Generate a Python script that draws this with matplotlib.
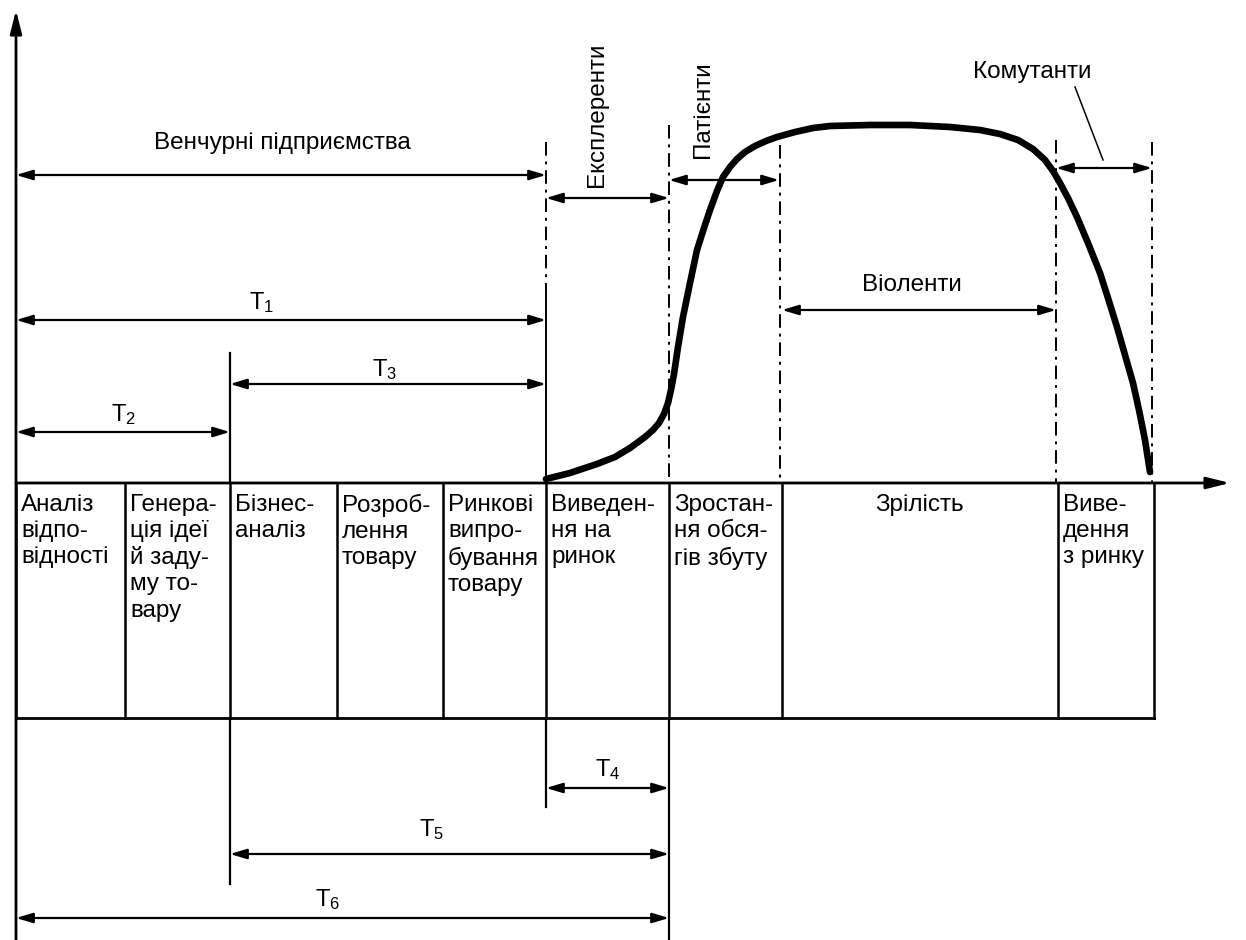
import numpy as np
import matplotlib
matplotlib.use('Agg')
import matplotlib.pyplot as plt

plt.rcParams['font.family'] = ['Liberation Sans', 'DejaVu Sans']
plt.rcParams['mathtext.default'] = 'regular'

# stage boundaries along the time axis and stage names
stage_edges = [16, 125, 230, 337, 443, 546, 669, 782, 1058, 1154]
stage_names = ['Аналіз\nвідпо-\nвідності',
               'Генера-\nція ідеї\nй заду-\nму то-\nвару',
               'Бізнес-\nаналіз',
               'Розроб-\nлення\nтовару',
               'Ринкові\nвипро-\nбування\nтовару',
               'Виведен-\nня на\nринок',
               'Зростан-\nня обся-\nгів збуту',
               'Зрілість',
               'Виве-\nдення\nз ринку']

# life-cycle curve (sales)
curve_x = [546, 570, 597, 615, 630, 645, 653, 659, 664, 668, 671, 674, 678, 683,
           690, 697, 704, 710, 717, 723, 730, 737, 745, 755, 766, 777, 795, 813,
           830, 870, 910, 950, 980, 1000, 1018, 1033, 1045, 1053, 1060, 1068, 1077,
           1088, 1100, 1108, 1117, 1125, 1133, 1139, 1145, 1150]
curve_y = [479, 473, 464, 457, 448, 437, 430, 423, 414, 403, 390, 374, 347, 317,
           283, 250, 228, 210, 191, 177, 167, 159, 152, 146, 141, 137, 132, 128,
           126, 125, 125, 127, 130, 134, 140, 149, 160, 171, 183, 198, 217,
           243, 273, 298, 327, 355, 383, 410, 440, 472]

# intervals above the axis: (label, start, end, level)
top_spans = [('Венчурні підприємства', 16, 546, 175),
             ('Експлеренти', 546, 669, 198),
             ('Патієнти', 669, 779, 180),
             ('Віоленти', 782, 1056, 310),
             ('Комутанти', 1056, 1152, 168)]
# development/market periods T1..T6: (label, start, end, level)
t_spans = [('T_1', 16, 546, 320),
           ('T_2', 16, 230, 432),
           ('T_3', 230, 546, 384),
           ('T_4', 546, 669, 788),
           ('T_5', 230, 669, 854),
           ('T_6', 16, 669, 918)]

axis_y = 483
table_bottom = 718
fs = 17.5

fig = plt.figure(figsize=(12.46, 9.40), dpi=100)
ax = fig.add_axes([0, 0, 1, 1])
ax.set_xlim(0, 1246)
ax.set_ylim(940, 0)
ax.axis('off')

lw = 1.6
head = '<|-|>,head_length=1.0,head_width=0.3'


def span(x0, x1, y):
    ax.annotate('', xy=(x1, y), xytext=(x0, y),
                arrowprops=dict(arrowstyle=head, color='black', lw=lw,
                                shrinkA=0, shrinkB=0, mutation_scale=10))


# axes with arrows
ax.annotate('', xy=(16, 10), xytext=(16, 940),
            arrowprops=dict(arrowstyle='-|>,head_length=1.4,head_width=0.35',
                            color='black', lw=2, shrinkA=0, shrinkB=0, mutation_scale=10))
ax.annotate('', xy=(1230, axis_y), xytext=(16, axis_y),
            arrowprops=dict(arrowstyle='-|>,head_length=1.4,head_width=0.35',
                            color='black', lw=2, shrinkA=0, shrinkB=0, mutation_scale=10))

# table of stages
ax.plot([stage_edges[0], stage_edges[-1]], [table_bottom, table_bottom], color='black', lw=2)
for x in stage_edges:
    ax.plot([x, x], [axis_y, table_bottom], color='black', lw=1.8)
for i, name in enumerate(stage_names):
    if name == 'Зрілість':
        ax.text((stage_edges[i] + stage_edges[i + 1]) / 2, 494, name, ha='center',
                va='top', fontsize=fs)
    else:
        ax.text(stage_edges[i] + 5, 494, name, ha='left', va='top', fontsize=fs,
                linespacing=1.24)

# dash-dot boundaries above the axis
dashdot = (0, (7, 3, 1.5, 3))
ax.plot([546, 546], [142, 297], color='black', lw=1.4, linestyle=dashdot)
ax.plot([546, 546], [297, axis_y], color='black', lw=1.4)
for x, top in [(669, 125), (780, 145), (1056, 140), (1152, 142)]:
    ax.plot([x, x], [top, axis_y], color='black', lw=1.4, linestyle=dashdot)

# solid guide lines for T-periods
ax.plot([230, 230], [353, axis_y], color='black', lw=1.6)
ax.plot([230, 230], [table_bottom, 884], color='black', lw=1.6)
ax.plot([546, 546], [table_bottom, 807], color='black', lw=1.6)
ax.plot([669, 669], [table_bottom, 940], color='black', lw=1.6)

# curve
ax.plot(curve_x, curve_y, color='black', lw=4.8, solid_capstyle='round',
        solid_joinstyle='round')

# spans above axis
for label, x0, x1, y in top_spans:
    span(x0, x1, y)
ax.text(282, 143, top_spans[0][0], ha='center', va='center', fontsize=fs)
ax.text(597, 115, top_spans[1][0], ha='center', va='center', fontsize=fs, rotation=90)
ax.text(703, 110, top_spans[2][0], ha='center', va='center', fontsize=fs, rotation=90)
ax.text(912, 285, top_spans[3][0], ha='center', va='center', fontsize=fs)
ax.text(1032, 72, top_spans[4][0], ha='center', va='center', fontsize=fs)
ax.plot([1075, 1103], [87, 160], color='black', lw=1.1)

# T spans
t_label_pos = [(262, 303), (124, 415), (385, 370), (608, 770), (432, 830), (328, 900)]
for (label, x0, x1, y), (lx, ly) in zip(t_spans, t_label_pos):
    span(x0, x1, y)
    ax.text(lx, ly, '$' + label + '$', ha='center', va='center', fontsize=17)

fig.savefig('out.png', dpi=100, facecolor='white')
